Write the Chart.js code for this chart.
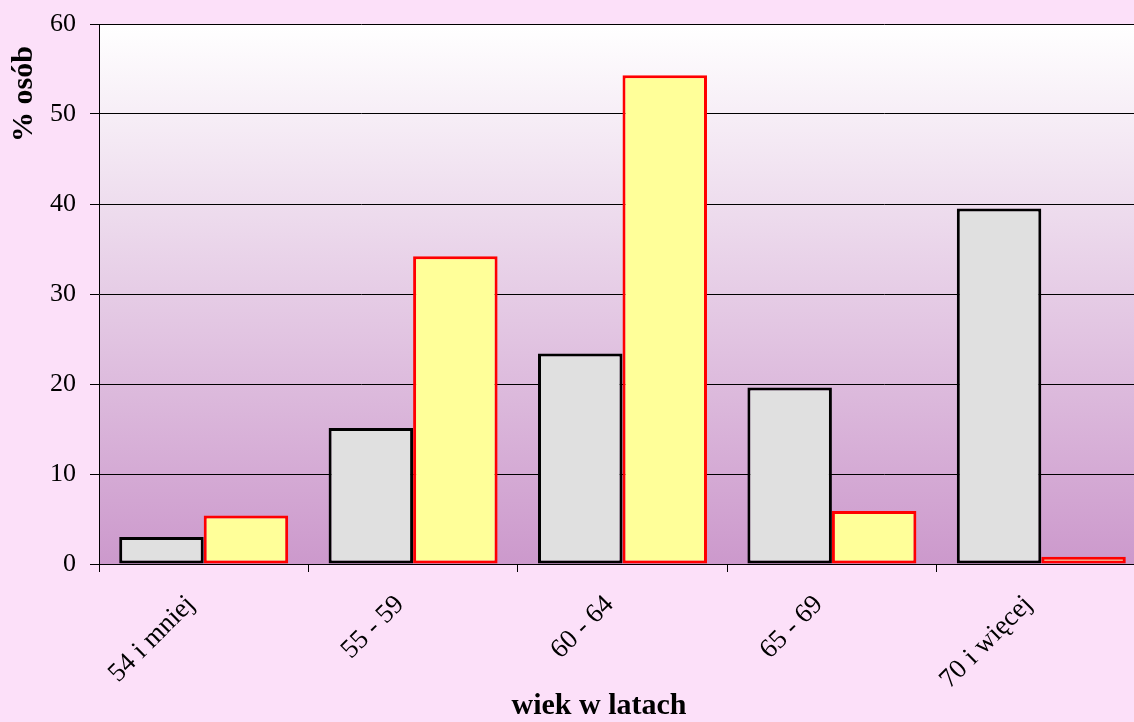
<!DOCTYPE html>
<html>
<head>
<meta charset="utf-8">
<script src="https://cdn.jsdelivr.net/npm/chart.js@4"></script>
<style>
  html, body { margin: 0; padding: 0; overflow: hidden; background: #FCE0F9; }
  #wrap { position: relative; width: 1146px; height: 722px; }
</style>
</head>
<body>
<div id="wrap"><canvas id="c"></canvas></div>
<script>
const categories = ['54 i mniej', '55 - 59', '60 - 64', '65 - 69', '70 i więcej'];
const seriesGray = [3.0, 15.1, 23.4, 19.6, 39.5];
const seriesYellow = [5.4, 34.2, 54.3, 5.9, 0.8];
const yTicks = [0, 10, 20, 30, 40, 50, 60];
const xTitle = 'wiek w latach';
const yTitle = '% osób';

const bgPlugin = {
  id: 'bg',
  beforeDraw(chart) {
    const { ctx, chartArea: a, width, height } = chart;
    ctx.save();
    ctx.fillStyle = '#FCE0F9';
    ctx.fillRect(0, 0, width, height);
    const g = ctx.createLinearGradient(0, a.top, 0, a.bottom);
    g.addColorStop(0, '#FFFFFF');
    g.addColorStop(1, '#CC99CC');
    ctx.fillStyle = g;
    ctx.fillRect(a.left, a.top, a.right - a.left, a.bottom - a.top);
    ctx.restore();
  },
  afterDraw(chart) {
    const { ctx } = chart;
    ctx.save();
    ctx.fillStyle = '#000';
    ctx.font = 'bold 30px "Liberation Serif"';
    ctx.textAlign = 'center';
    ctx.textBaseline = 'middle';
    ctx.fillText(xTitle, 599, 706);
    ctx.translate(24, 94);
    ctx.rotate(-Math.PI / 2);
    ctx.fillText(yTitle, 0, 0);
    ctx.restore();
  }
};

new Chart(document.getElementById('c'), {
  type: 'bar',
  data: {
    labels: categories,
    datasets: [
      { data: seriesGray, backgroundColor: '#E0E0E0', borderColor: '#000000', borderWidth: 3, borderSkipped: false },
      { data: seriesYellow, backgroundColor: '#FFFF99', borderColor: '#FF0000', borderWidth: 3, borderSkipped: false }
    ]
  },
  options: {
    responsive: true,
    maintainAspectRatio: false,
    animation: false,
    devicePixelRatio: 1,
    layout: { padding: { top: 24, right: 0, left: 0, bottom: 0 } },
    plugins: { legend: { display: false }, tooltip: { enabled: false } },
    datasets: { bar: { barPercentage: 1, categoryPercentage: 0.807 } },
    scales: {
      x: {
        grid: { drawOnChartArea: false, drawTicks: true, tickLength: 8, color: '#000', offset: true },
        border: { color: '#000', width: 1 },
        ticks: { color: '#000', font: { family: 'Liberation Serif', size: 27 }, minRotation: 45, maxRotation: 45, padding: 17, labelOffset: -13 },
        afterFit(s) { s.height = 158; s.paddingLeft = 0; s.paddingRight = 0; }
      },
      y: {
        min: 0, max: 60,
        afterBuildTicks(s) { s.ticks = yTicks.map(v => ({ value: v })); },
        grid: { color: '#000', tickLength: 9, lineWidth: 1 },
        border: { color: '#000', width: 1 },
        ticks: { color: '#000', font: { family: 'Liberation Serif', size: 26 }, padding: 14 },
        afterFit(s) { s.width = 99; s.paddingTop = 0; s.paddingBottom = 0; }
      }
    }
  },
  plugins: [bgPlugin]
});
</script>
</body>
</html>
